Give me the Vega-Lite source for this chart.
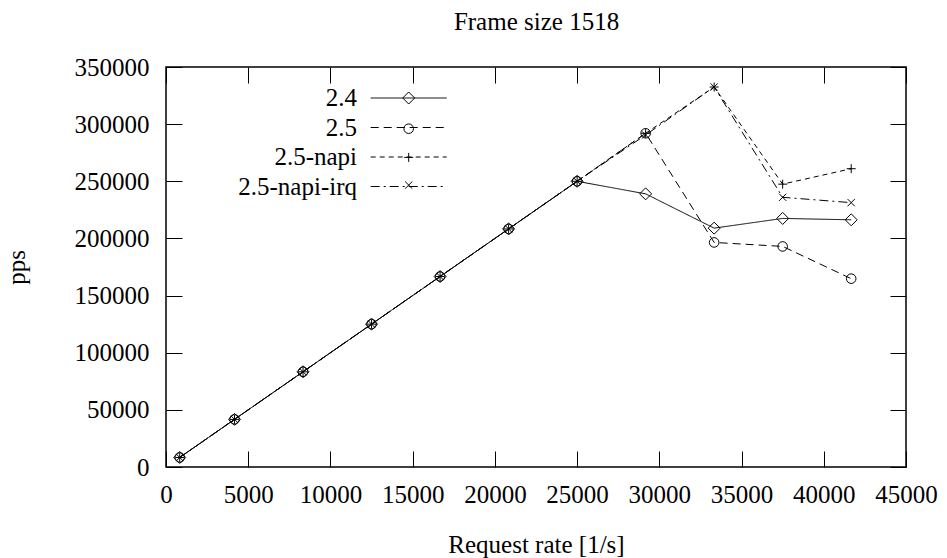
{
  "$schema": "https://vega.github.io/schema/vega-lite/v6.json",
  "width": 740,
  "height": 400,
  "autosize": {"type": "none"},
  "padding": {"left": 166, "top": 67, "right": 41, "bottom": 91},
  "background": "white",
  "data": {"values": [
    {"series": "2.4", "rate": 833, "pps": 8330},
    {"series": "2.4", "rate": 4167, "pps": 41670},
    {"series": "2.4", "rate": 8333, "pps": 83330},
    {"series": "2.4", "rate": 12500, "pps": 125000},
    {"series": "2.4", "rate": 16667, "pps": 166670},
    {"series": "2.4", "rate": 20833, "pps": 208330},
    {"series": "2.4", "rate": 25000, "pps": 250000},
    {"series": "2.4", "rate": 29167, "pps": 239000},
    {"series": "2.4", "rate": 33333, "pps": 209000},
    {"series": "2.4", "rate": 37500, "pps": 217500},
    {"series": "2.4", "rate": 41667, "pps": 216300},
    {"series": "2.5", "rate": 833, "pps": 8330},
    {"series": "2.5", "rate": 4167, "pps": 41670},
    {"series": "2.5", "rate": 8333, "pps": 83330},
    {"series": "2.5", "rate": 12500, "pps": 125000},
    {"series": "2.5", "rate": 16667, "pps": 166670},
    {"series": "2.5", "rate": 20833, "pps": 208330},
    {"series": "2.5", "rate": 25000, "pps": 250000},
    {"series": "2.5", "rate": 29167, "pps": 292000},
    {"series": "2.5", "rate": 33333, "pps": 196500},
    {"series": "2.5", "rate": 37500, "pps": 193000},
    {"series": "2.5", "rate": 41667, "pps": 164800},
    {"series": "2.5-napi", "rate": 833, "pps": 8330},
    {"series": "2.5-napi", "rate": 4167, "pps": 41670},
    {"series": "2.5-napi", "rate": 8333, "pps": 83330},
    {"series": "2.5-napi", "rate": 12500, "pps": 125000},
    {"series": "2.5-napi", "rate": 16667, "pps": 166670},
    {"series": "2.5-napi", "rate": 20833, "pps": 208330},
    {"series": "2.5-napi", "rate": 25000, "pps": 250000},
    {"series": "2.5-napi", "rate": 29167, "pps": 292000},
    {"series": "2.5-napi", "rate": 33333, "pps": 332500},
    {"series": "2.5-napi", "rate": 37500, "pps": 247500},
    {"series": "2.5-napi", "rate": 41667, "pps": 261000},
    {"series": "2.5-napi-irq", "rate": 833, "pps": 8330},
    {"series": "2.5-napi-irq", "rate": 4167, "pps": 41670},
    {"series": "2.5-napi-irq", "rate": 8333, "pps": 83330},
    {"series": "2.5-napi-irq", "rate": 12500, "pps": 125000},
    {"series": "2.5-napi-irq", "rate": 16667, "pps": 166670},
    {"series": "2.5-napi-irq", "rate": 20833, "pps": 208330},
    {"series": "2.5-napi-irq", "rate": 25000, "pps": 250000},
    {"series": "2.5-napi-irq", "rate": 29167, "pps": 290500},
    {"series": "2.5-napi-irq", "rate": 33333, "pps": 332500},
    {"series": "2.5-napi-irq", "rate": 37500, "pps": 236000},
    {"series": "2.5-napi-irq", "rate": 41667, "pps": 231300}
  ]},
  "layer": [
    {
      "mark": {"type": "line", "color": "black", "strokeWidth": 1},
      "encoding": {
        "x": {"field": "rate", "type": "quantitative", "scale": {"domain": [0, 45000], "nice": false},
              "axis": {"orient": "bottom", "title": "Request rate [1/s]", "values": [0,5000,10000,15000,20000,25000,30000,35000,40000,45000], "format": "d", "labelPadding": 31, "labelDx": 2, "titleBaseline": "alphabetic", "titlePadding": 45}},
        "y": {"field": "pps", "type": "quantitative", "scale": {"domain": [0, 350000], "nice": false},
              "axis": {"orient": "left", "title": "pps", "values": [0,50000,100000,150000,200000,250000,300000,350000], "format": "d", "labelPadding": 33, "titleBaseline": "alphabetic", "titlePadding": 50}},
        "strokeDash": {"field": "series", "type": "nominal",
          "scale": {"range": [[1,0],[8,5],[5,4],[9,4,2,4]]},
          "legend": {"orient": "none", "legendX": 230.2, "legendY": 18.5, "title": null, "symbolType": "M-3.1667,0H3.1667", "symbolSize": 576, "symbolStrokeWidth": 1, "symbolStrokeColor": "black", "symbolFillColor": "transparent", "rowPadding": 3.5, "padding": 0, "labelAlign": "right", "labelOffset": -64.2, "labelBaseline": "middle", "labelFont": "Liberation Serif", "labelFontSize": 25, "labelColor": "black", "labelLimit": 400}},
        "detail": {"field": "series"}
      }
    },
    {
      "mark": {"type": "point", "filled": false, "color": "black", "strokeWidth": 1, "size": 144, "opacity": 1},
      "encoding": {
        "x": {"field": "rate", "type": "quantitative",
              "axis": {"orient": "top", "title": "Frame size 1518", "titleBaseline": "alphabetic", "titlePadding": 37, "labels": false, "values": [0,5000,10000,15000,20000,25000,30000,35000,40000,45000]}},
        "y": {"field": "pps", "type": "quantitative",
              "axis": {"orient": "right", "title": null, "labels": false, "values": [0,50000,100000,150000,200000,250000,300000,350000]}},
        "shape": {"field": "series", "type": "nominal",
          "scale": {"domain": ["2.4", "2.5", "2.5-napi", "2.5-napi-irq"],
                    "range": ["M-1,0L0,-1L1,0L0,1Z", "M-0.8,0A0.8,0.8 0 1,1 0.8,0A0.8,0.8 0 1,1 -0.8,0Z", "M-0.75,0L0.75,0M0,-0.75L0,0.75", "M-0.6,-0.6L0.6,0.6M-0.6,0.6L0.6,-0.6"]},
          "legend": {"orient": "none", "legendX": 236.2, "legendY": 24.5, "title": null, "symbolSize": 144, "symbolStrokeWidth": 1, "symbolStrokeColor": "black", "symbolFillColor": "transparent", "rowPadding": 14.7, "padding": 0, "labelExpr": "''", "labelFontSize": 1}}
      }
    }
  ],
  "resolve": {"axis": {"x": "independent", "y": "independent"}},
  "config": {
    "font": "Liberation Serif",
    "view": {"stroke": "black", "strokeWidth": 1.5},
    "axis": {"grid": false, "domain": false, "tickColor": "black", "tickWidth": 1, "tickSize": -16, "labelFlush": false, "labelOverlap": false, "labelFont": "Liberation Serif", "labelFontSize": 25, "labelColor": "black", "titleFont": "Liberation Serif", "titleFontSize": 25, "titleFontWeight": "normal", "titleColor": "black"}
  }
}
